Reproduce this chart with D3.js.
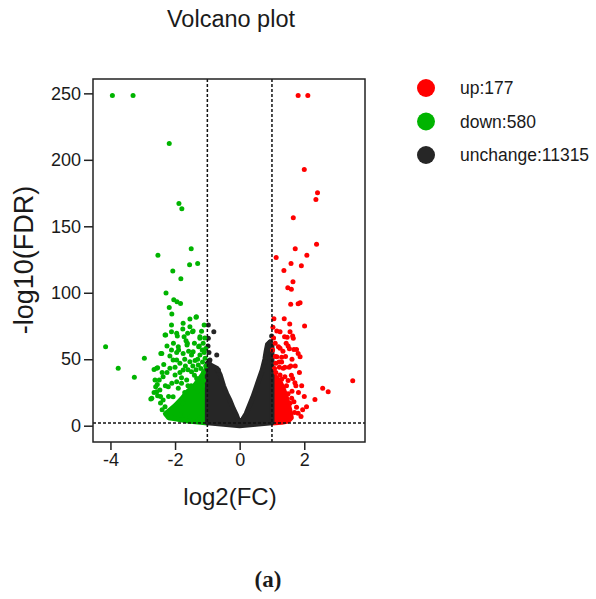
<!DOCTYPE html>
<html>
<head>
<meta charset="utf-8">
<script src="https://cdn.jsdelivr.net/npm/d3@7"></script>
<style>
  body { margin: 0; background: #fff; }
  text { font-family: "Liberation Sans", Arial, sans-serif; fill: #1a1a1a; }
</style>
</head>
<body>
<div id="chart"></div>
<script>
// values (log2FC, -log10 FDR)
const upPts = [
  [1.81,248.4],[2.11,248.4],[2.00,192.8],[2.41,175.2],[2.36,170.2],[1.66,156.4],[2.38,136.4],
  [1.72,133.1],[2.08,128.3],[1.13,126.6],[1.59,122.1],[1.91,120.3],[1.37,116.8],[1.65,108.3],
  [1.49,103.8],[1.60,102.6],[1.58,91.3],[1.81,91.7],[1.87,92.5],[1.06,80.5],[1.38,80.5],
  [1.55,76.5],[2.01,75],[1.15,71.2],[1.25,70.7],[1.56,70.7],[1.39,66.9],[1.47,66.5],[1.64,67.4],
  [1.66,65.7],[1.20,59.4],[1.25,58.2],[1.54,57.9],[1.68,57.4],[1.76,57.4],[1.81,54.4],[1.87,51.9],
  [1.15,51.9],[1.30,51.4],[1.12,46.9],[1.23,43.9],[1.35,43.2],[1.53,43.9],[1.25,38.1],[1.40,36.8],
  [1.64,35.6],[1.71,32.3],[1.74,30.1],[3.50,33.8],[2.57,28.1],[2.74,25.6],[2.33,19.8],[2.07,14.3],
  [1.76,13.8],[1.81,9.3],[1.61,20.6],[1.56,16.8],[1.45,30],[1.50,24],[1.62,26],[1.68,18],[1.70,10],
  [1.90,7],[1.95,12],[1.08,43],[1.10,62],[1.05,66],[1.30,48],[1.42,52],[1.58,45],[1.60,38],[1.50,34],
  [1.02,57],[1.03,74],[1.18,30],[1.30,35],[1.12,40],[1.22,48],[1.34,56],[1.44,62],[1.50,60],
  [1.62,50],[1.72,45],[1.85,40],[1.92,30],[2.00,22],[1.82,25],[1.40,44],[1.10,52]
];
const downPts = [
  [-3.94,248.4],[-3.30,248.4],[-2.18,212.3],[-1.88,167.2],[-1.79,163.2],[-2.53,128.3],[-1.50,133.1],
  [-1.55,121.1],[-1.30,122.1],[-2.07,116.3],[-1.82,110.5],[-2.28,99.8],[-2.04,94.7],[-1.94,93.2],
  [-1.83,92.0],[-2.18,89.0],[-2.10,84.0],[-2.29,68.2],[-4.15,59.4],[-3.76,43.2],[-3.26,36.4],
  [-2.95,50.7],[-2.65,42.3],[-2.54,43.6],[-2.44,54.4],[-2.49,34.4],[-2.60,29.3],[-2.75,20.1],
  [-2.54,22.6],[-1.75,77],[-1.54,80.2],[-1.34,82],[-1.76,72.7],[-1.44,71.2],[-1.23,65.7],[-1.61,69.5],
  [-1.93,67.4],[-2.11,70.7],[-1.66,63.9],[-1.27,59.4],[-1.16,56.9],[-1.89,56.9],[-1.63,60.7],
  [-2.16,52.4],[-1.95,49.4],[-1.49,53.2],[-1.35,81.5],[-1.10,75.7],[-1.54,74.4],[-2.11,75.7],
  [-2.31,68.2],[-1.95,69.5],[-1.72,66.9],[-1.46,70.7],[-1.23,66.9],[-1.13,62],[-1.62,62],[-1.90,59.4],
  [-2.11,56.9],[-2.41,54.4],[-1.44,55.6],[-1.75,54.4],[-1.23,53.2],[-1.07,50.7],[-2.06,49.4],
  [-1.85,46.9],[-1.54,48.1],[-1.28,45.6],[-2.57,43.2],[-2.16,43.2],[-1.75,41.9],[-1.49,40.6],
  [-2.62,34.4],[-2.37,36.8],[-2.00,38.1],[-1.64,34.4],[-1.33,35.6],[-2.47,26.8],[-2.21,29.3],
  [-1.90,28.1],[-2.72,20.6],[-2.37,19.3],[-2.57,25.6],[-2.06,21.8],[-2.31,14.3],[-2.00,14.3],
  [-1.75,16.8],[-2.16,9.3],[-1.85,8],[-1.54,6.8],[-1.23,5.6],[-1.05,45],[-1.12,40],[-1.20,43],
  [-1.40,38],[-1.60,30],[-1.80,32],[-1.70,25],[-2.10,32],[-2.40,12],[-2.45,17],[-1.15,30],[-1.30,26],
  [-1.05,58],[-1.08,66],[-1.18,71],[-1.15,48],[-1.30,50],[-1.45,45],[-1.60,42],[-1.85,40],[-2.25,40],
  [-2.35,46],[-2.20,22],[-2.30,30],[-1.95,33],[-1.80,36],[-1.50,30],[-1.35,42],[-1.20,36],[-1.10,55],
  [-1.25,60],[-1.40,62],[-1.58,56],[-1.70,50],[-1.95,55],[-2.05,62],[-2.25,60],[-2.00,44],[-2.55,31],
  [-2.65,25],[-2.45,22],[-2.40,40],[-1.68,45],[-1.38,49],[-1.12,34]
];
const unchangePts = [
  [-0.97,75.7],[-0.80,70.7],[-0.97,65.7],[-0.71,53.2],[-0.94,46.9],[-0.66,41.9],[-0.92,49.4],
  [-0.95,55],[-0.98,60],[0.92,62],[0.85,56.9],[0.78,48.1],[0.99,67.4],[0.95,63]
];
// outline of the dense, fully overlapping cores
const unchangeCore = [
  [-1.0,2.2],[-1.0,47],[-0.85,45],[-0.7,43],[-0.6,38],[-0.5,30],[-0.4,24],[-0.3,19],[-0.2,13],
  [-0.1,8],[-0.03,3.5],[0.03,3],[0.1,5],[0.2,9],[0.3,15],[0.4,21],[0.5,28],[0.6,35],[0.7,42],
  [0.78,50],[0.82,56],[0.86,61],[0.94,63],[1.0,60],[1.0,2.2],[0.5,1],[0,0],[-0.5,1]
];
const downCore = [
  [-1.0,2],[-1.0,44],[-1.1,40],[-1.25,35],[-1.4,30],[-1.6,26],[-1.8,20],[-2.0,15],[-2.2,11],
  [-2.3,9],[-2.2,6],[-1.95,5],[-1.6,3.5],[-1.2,2.5]
];
const upCore = [
  [1.0,2],[1.0,40],[1.1,37],[1.25,33],[1.35,28],[1.45,21],[1.55,12],[1.6,6],[1.5,3.5],[1.3,2.5]
];
const xTicks = [-4, -2, 0, 2];
const yTicks = [0, 50, 100, 150, 200, 250];
const legendLabels = ['up:177', 'down:580', 'unchange:11315'];
const colors = ['#ff0000', '#00b400', '#262626'];

const width = 596, height = 599;
const svg = d3.select('#chart').append('svg')
    .attr('width', width).attr('height', height);

const x = d3.scaleLinear().domain([-4.54, 3.88]).range([93, 365]);
const y = d3.scaleLinear().domain([-12.26, 260.8]).range([442, 79]);

// cores
const core = d3.line().x(d => x(d[0])).y(d => y(d[1])).curve(d3.curveLinearClosed);
[[upCore, colors[0]], [downCore, colors[1]], [unchangeCore, colors[2]]].forEach(([c, col]) => {
  svg.append('path').attr('d', core(c))
    .attr('fill', col).attr('stroke', col)
    .attr('stroke-width', 5).attr('stroke-linejoin', 'round');
});

// points
[[unchangePts, colors[2]], [downPts, colors[1]], [upPts, colors[0]]].forEach(([pts, col]) => {
  svg.append('g').selectAll('circle')
    .data(pts).enter().append('circle')
      .attr('cx', d => x(d[0])).attr('cy', d => y(d[1]))
      .attr('r', 2.5).attr('fill', col);
});

// threshold lines
const dash = svg.append('g').attr('stroke', '#111').attr('stroke-width', 1.5)
    .attr('stroke-dasharray', '3,2');
[-1, 1].forEach(v => dash.append('line')
  .attr('x1', x(v)).attr('x2', x(v)).attr('y1', y.range()[1]).attr('y2', y.range()[0]));
dash.append('line').attr('x1', x.range()[0]).attr('x2', x.range()[1])
  .attr('y1', y(2)).attr('y2', y(2));

// frame
svg.append('rect')
  .attr('x', 93).attr('y', 79).attr('width', 365 - 93).attr('height', 442 - 79)
  .attr('fill', 'none').attr('stroke', '#222').attr('stroke-width', 1.5);

// axes
const xAxis = svg.append('g').attr('transform', 'translate(0,442)')
  .call(d3.axisBottom(x).tickValues(xTicks).tickSize(8).tickPadding(3));
const yAxis = svg.append('g').attr('transform', 'translate(93,0)')
  .call(d3.axisLeft(y).tickValues(yTicks).tickSize(9).tickPadding(3));
[xAxis, yAxis].forEach(a => {
  a.select('.domain').remove();
  a.selectAll('line').attr('stroke', '#222').attr('stroke-width', 1.5);
  a.selectAll('text').attr('font-size', 18).attr('fill', '#1a1a1a')
    .attr('font-family', '"Liberation Sans", Arial, sans-serif');
});
xAxis.selectAll('text').text(d => d < 0 ? '-' + Math.abs(d) : d);

// titles
svg.append('text').attr('x', 231).attr('y', 27).attr('text-anchor', 'middle')
  .attr('font-size', 23.5).text('Volcano plot');
svg.append('text').attr('x', 230).attr('y', 505).attr('text-anchor', 'middle')
  .attr('font-size', 24).text('log2(FC)');
svg.append('text').attr('transform', 'translate(33,260) rotate(-90)')
  .attr('text-anchor', 'middle').attr('font-size', 27).text('-log10(FDR)');

// legend
const leg = svg.append('g').selectAll('g')
  .data(legendLabels).enter().append('g')
    .attr('transform', (d, i) => `translate(426,${88 + i * 33.5})`);
leg.append('circle').attr('r', 9).attr('fill', (d, i) => colors[i]);
leg.append('text').attr('x', 34).attr('dy', '0.35em').attr('font-size', 17.5).text(d => d);

// caption
svg.append('text').attr('x', 268).attr('y', 587).attr('text-anchor', 'middle')
  .attr('font-weight', 'bold').attr('font-size', 23)
  .style('font-family', '"Liberation Serif", "Times New Roman", serif').text('(a)');
</script>
</body>
</html>
